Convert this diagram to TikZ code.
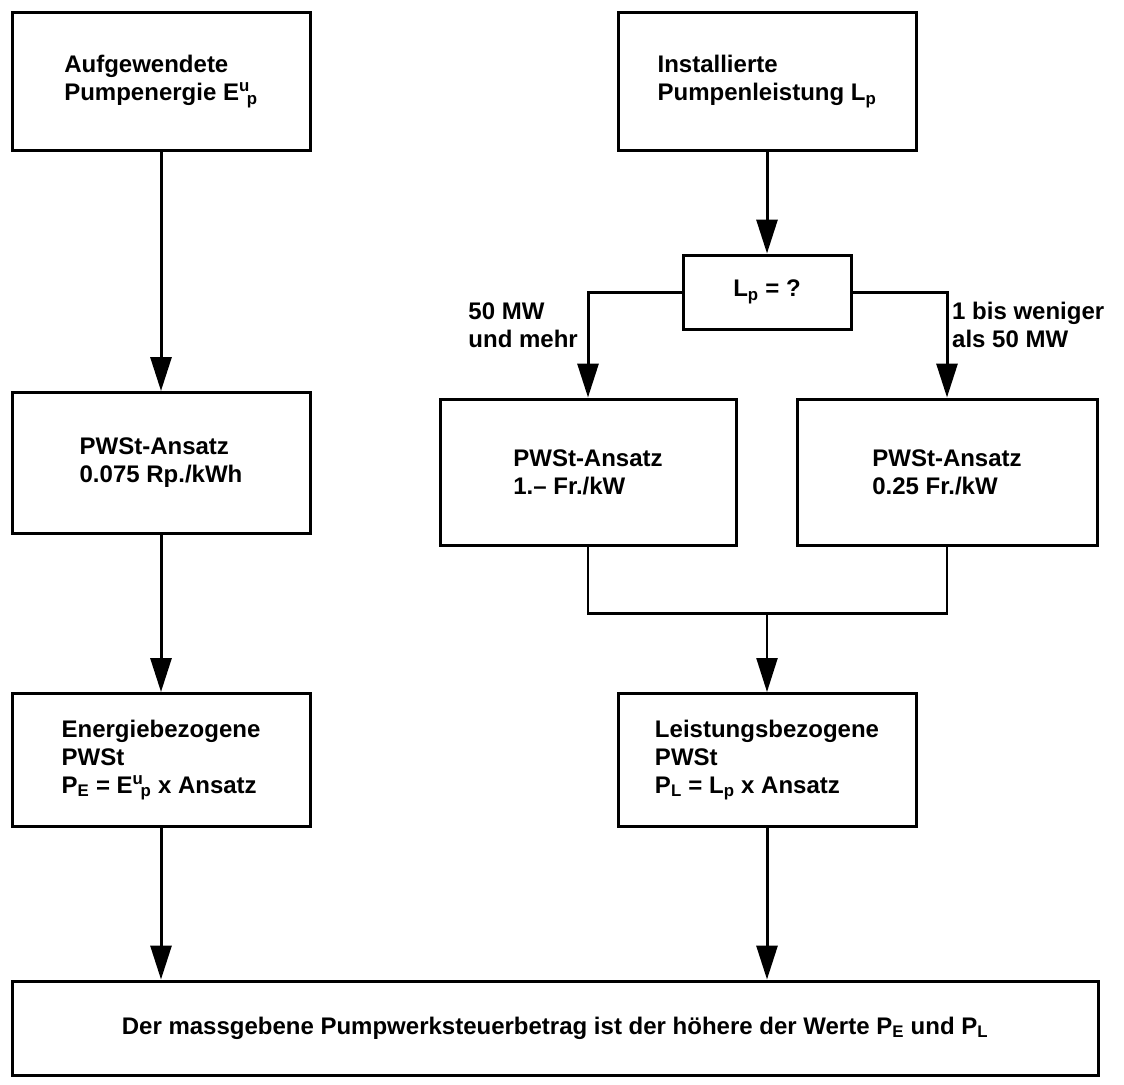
\documentclass[tikz,border=0pt]{standalone}
\usepackage{fontspec}
\setmainfont{Liberation Sans}
\usetikzlibrary{arrows.meta,calc}
\newcommand\Eup{E\textsuperscript{u}\kern-0.12em\textsubscript{p}}
\begin{document}
\begin{tikzpicture}[x=1pt,y=-1pt,
  box/.style={draw, line width=3pt, inner sep=0pt, align=left,
    font=\fontsize{24}{28}\selectfont\bfseries},
  lbl/.style={inner sep=0pt, align=left, font=\fontsize{24}{28}\selectfont\bfseries},
  arr/.style={line width=3pt, -{Triangle[length=34pt,width=21pt]}},
  ln/.style={line width=2.6pt}]
\useasboundingbox (0,0) rectangle (1124,1084);
\fill[white] (0,0) rectangle (1124,1084);

\node[box, minimum width=298pt, minimum height=138pt, text depth=6pt] (A) at (161,81)
  {Aufgewendete\\Pumpenergie \Eup};
\node[box, minimum width=298pt, minimum height=138pt, text depth=6pt] (B) at (767,81)
  {Installierte\\Pumpenleistung L\textsubscript{p}};
\node[box, minimum width=298pt, minimum height=141pt] (C) at (161,463)
  {PWSt-Ansatz\\0.075 Rp./kWh};
\node[box, minimum width=168pt, minimum height=74pt, align=center] (Lp) at (767,292)
  {L\textsubscript{p} = ?};
\node[box, minimum width=296pt, minimum height=146pt] (D) at (588,472)
  {PWSt-Ansatz\\1.-- Fr./kW};
\node[box, minimum width=300pt, minimum height=146pt] (E) at (947,472)
  {PWSt-Ansatz\\0.25 Fr./kW};
\node[box, minimum width=298pt, minimum height=133pt] (G) at (161,760)
  {Energiebezogene\\PWSt\\P\textsubscript{E} = \Eup{} x Ansatz};
\node[box, minimum width=298pt, minimum height=133pt] (F) at (767,760)
  {Leistungsbezogene\\PWSt\\P\textsubscript{L} = L\textsubscript{p} x Ansatz};
\node[box, minimum width=1086pt, minimum height=94pt, align=center] (H) at (555,1028)
  {Der massgebene Pumpwerksteuerbetrag ist der höhere der Werte P\textsubscript{E} und P\textsubscript{L}};

\node[lbl, anchor=east] (l1) at (578,325) {50 MW\\und mehr};
\node[lbl, anchor=west] (l2) at (952,325) {1 bis weniger\\als 50 MW};

\draw[arr] (A.south) -- (C.north);
\draw[arr] (C.south) -- (G.north);
\draw[arr] (G.south) -- (H.north -| G.south);
\draw[arr] (B.south) -- (Lp.north);
\draw[arr] (Lp.west) -| (D.north);
\draw[arr] (Lp.east) -| (E.north);
\coordinate (M) at ($(D.south)+(0,67)$);
\draw[ln] (D.south) -- (M) -| (E.south);
\coordinate (M2) at (M -| F.north);
\draw[arr, line width=2.4pt] (M2) -- (F.north);
\draw[arr] (F.south) -- (H.north -| F.south);
\end{tikzpicture}
\end{document}
